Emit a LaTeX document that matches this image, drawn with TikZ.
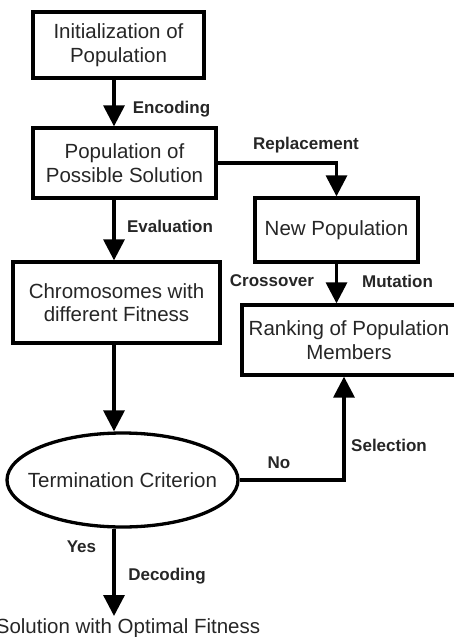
\documentclass[tikz,border=0pt]{standalone}
\usepackage{fontspec}
\setmainfont{Liberation Sans}
\usetikzlibrary{arrows.meta,shapes.geometric}
\definecolor{txt}{gray}{0.15}
\begin{document}
\begin{tikzpicture}[x=1pt,y=-1pt,
  box/.style={draw,line width=3.3pt,inner sep=0pt,align=center,text=txt,font=\fontsize{20.5}{23.5}\selectfont},
  oval/.style={draw,ellipse,line width=3.3pt,inner sep=0pt},
  arr/.style={line width=3.3pt,-{Triangle[length=21pt,width=21pt]}},
  lab/.style={font=\fontsize{17}{20}\bfseries\selectfont,text=txt,anchor=base,inner sep=0pt}]
\useasboundingbox (0,0) rectangle (454,637);
\begin{scope}
\clip (0,0) rectangle (454,637);
\node[box,minimum width=171,minimum height=66] (b1) at (118.5,45) {Initialization of\\Population};
\node[box,minimum width=183,minimum height=70] (b2) at (124.5,163) {Population of\\Possible Solution};
\node[box,minimum width=163,minimum height=64] (b3) at (336.5,230) {New Population};
\node[box,minimum width=207,minimum height=81] (b4) at (116.5,302.5) {Chromosomes with\\different Fitness};
\node[box,minimum width=214,minimum height=70] (b5) at (349,340) {Ranking of Population\\Members};
\node[oval,minimum width=231,minimum height=94] (el) at (122.5,480) {};
\node[text=txt,font=\fontsize{20.5}{23.5}\selectfont,inner sep=0pt] (elt) at (el.center) {Termination Criterion};
\node[text=txt,font=\fontsize{20.5}{23.5}\selectfont,anchor=base,inner sep=0pt] (sol) at (128,633) {Solution with Optimal Fitness};
\coordinate (spine) at (114,0);
\coordinate (sel) at (344,0);
\coordinate (solt) at (114,616);
\draw[arr] (spine |- b1.south) -- (spine |- b2.north);
\draw[arr] (spine |- b2.south) -- (spine |- b4.north);
\draw[arr] (spine |- b4.south) -- (spine |- el.north);
\draw[arr] (spine |- el.south) -- (solt);
\draw[arr] (b2.east) -| (b3.north);
\draw[arr] (b3.south) -- (b3.south |- b5.north);
\draw[arr] (el.east) -| (sel |- b5.south);
\node[lab] (lenc) at (171.5,113) {Encoding};
\node[lab] (lrep) at (306,149) {Replacement};
\node[lab] (leva) at (170,232) {Evaluation};
\node[lab] (lcro) at (272,286) {Crossover};
\node[lab] (lmut) at (397.5,287) {Mutation};
\node[lab] (lno) at (279,468) {No};
\node[lab] (lsel) at (389,451) {Selection};
\node[lab] (lyes) at (81.5,552) {Yes};
\node[lab] (ldec) at (167,580) {Decoding};
\end{scope}
\end{tikzpicture}
\end{document}
